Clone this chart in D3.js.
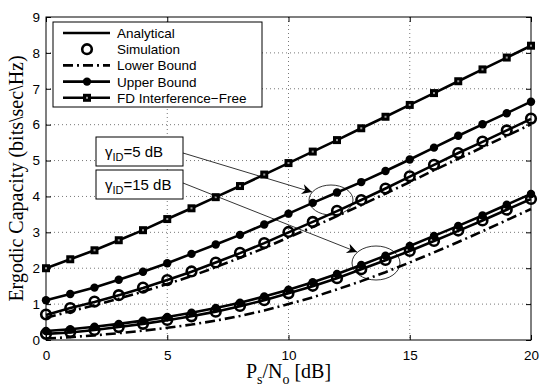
<!DOCTYPE html>
<html>
<head>
<meta charset="utf-8">
<script src="https://cdn.jsdelivr.net/npm/d3@7"></script>
<style>
  body { margin: 0; background: #fff; }
  svg { display: block; }
</style>
</head>
<body>
<div id="chart"></div>
<script>
    // x values (Ps/No in dB)
    const snr = d3.range(0, 21);

    // gamma_ID = 5 dB curves
    const analytical5 = [0.70, 0.89, 1.06, 1.25, 1.45, 1.67, 1.90, 2.16, 2.42, 2.70, 3.00, 3.29, 3.59, 3.90, 4.22, 4.55, 4.88, 5.21, 5.52, 5.84, 6.16];
    const simulation5 = [0.71, 0.89, 1.07, 1.25, 1.46, 1.67, 1.91, 2.16, 2.43, 2.70, 3.01, 3.29, 3.60, 3.90, 4.22, 4.56, 4.88, 5.21, 5.53, 5.84, 6.17];
    const lower5 = [0.62, 0.80, 0.97, 1.15, 1.35, 1.56, 1.78, 2.03, 2.29, 2.56, 2.86, 3.15, 3.45, 3.76, 4.08, 4.40, 4.73, 5.05, 5.37, 5.69, 6.01];
    const upper5 = [1.11, 1.28, 1.46, 1.68, 1.90, 2.14, 2.40, 2.66, 2.93, 3.22, 3.52, 3.82, 4.11, 4.40, 4.71, 5.03, 5.36, 5.69, 6.01, 6.32, 6.64];

    // gamma_ID = 15 dB curves
    const analytical15 = [0.17, 0.21, 0.28, 0.36, 0.45, 0.55, 0.66, 0.79, 0.94, 1.11, 1.30, 1.50, 1.72, 1.97, 2.22, 2.48, 2.76, 3.04, 3.33, 3.63, 3.93];
    const simulation15 = [0.17, 0.22, 0.28, 0.36, 0.45, 0.56, 0.66, 0.79, 0.95, 1.11, 1.30, 1.51, 1.72, 1.97, 2.23, 2.48, 2.76, 3.05, 3.33, 3.63, 3.93];
    const lower15 = [0.04, 0.08, 0.13, 0.19, 0.26, 0.34, 0.43, 0.54, 0.67, 0.82, 1.00, 1.19, 1.41, 1.64, 1.89, 2.16, 2.44, 2.73, 3.03, 3.34, 3.65];
    const upper15 = [0.25, 0.30, 0.37, 0.45, 0.54, 0.64, 0.76, 0.89, 1.04, 1.21, 1.40, 1.61, 1.84, 2.09, 2.35, 2.62, 2.90, 3.18, 3.47, 3.77, 4.07];

    // interference-free full duplex
    const fdFree = [2.00, 2.25, 2.50, 2.78, 3.06, 3.37, 3.67, 3.98, 4.29, 4.61, 4.93, 5.25, 5.57, 5.90, 6.22, 6.55, 6.88, 7.21, 7.54, 7.87, 8.20];

    const xTicks = [0, 5, 10, 15, 20];
    const yTicks = [0, 1, 2, 3, 4, 5, 6, 7, 8, 9];
    const legendLabels = ["Analytical", "Simulation", "Lower Bound", "Upper Bound", "FD Interference\u2212Free"];

    const width = 550, height = 391;
    const margin = { top: 17, right: 19, bottom: 51, left: 46 };
    const w = width - margin.left - margin.right;
    const h = height - margin.top - margin.bottom;

    const svg = d3.select("#chart").append("svg")
        .attr("width", width)
        .attr("height", height);

    const g = svg.append("g")
        .attr("transform", `translate(${margin.left},${margin.top})`);

    const x = d3.scaleLinear().domain([0, 20]).range([0, w]);
    const y = d3.scaleLinear().domain([0, 9]).range([h, 0]);

    // dotted grid
    g.append("g").selectAll("line")
        .data(xTicks.slice(1, -1))
        .enter().append("line")
        .attr("x1", d => x(d)).attr("x2", d => x(d))
        .attr("y1", 0).attr("y2", h)
        .attr("stroke", "#555").attr("stroke-width", 0.8)
        .attr("stroke-dasharray", "1,3");
    g.append("g").selectAll("line")
        .data(yTicks.slice(1, -1))
        .enter().append("line")
        .attr("x1", 0).attr("x2", w)
        .attr("y1", d => y(d)).attr("y2", d => y(d))
        .attr("stroke", "#555").attr("stroke-width", 0.8)
        .attr("stroke-dasharray", "1,3");

    // axes (ticks inward, on all four sides)
    const tickFont = "'Liberation Sans', Arial, sans-serif";
    const xAxis = g.append("g").attr("transform", `translate(0,${h})`)
        .call(d3.axisBottom(x).tickValues(xTicks).tickSizeInner(-5).tickSizeOuter(0).tickPadding(10));
    const yAxis = g.append("g")
        .call(d3.axisLeft(y).tickValues(yTicks).tickSizeInner(-5).tickSizeOuter(0).tickPadding(6));
    g.append("g")
        .call(d3.axisTop(x).tickValues(xTicks).tickSizeInner(-5).tickSizeOuter(0).tickFormat(""));
    g.append("g").attr("transform", `translate(${w},0)`)
        .call(d3.axisRight(y).tickValues(yTicks).tickSizeInner(-5).tickSizeOuter(0).tickFormat(""));
    g.selectAll(".domain").remove();
    g.selectAll(".tick line").attr("stroke", "#000");
    [xAxis, yAxis].forEach(a => a.selectAll("text")
        .attr("font-family", tickFont).attr("font-size", 13.5).attr("fill", "#000"));

    g.append("rect")
        .attr("width", w).attr("height", h)
        .attr("fill", "none").attr("stroke", "#000").attr("stroke-width", 1);

    // curves
    const line = d3.line().x((d, i) => x(snr[i])).y(d => y(d));

    function drawLine(values, dash) {
        g.append("path")
            .datum(values)
            .attr("d", line)
            .attr("fill", "none")
            .attr("stroke", "#000")
            .attr("stroke-width", 2.6)
            .attr("stroke-dasharray", dash || null);
    }

    function drawDots(values) {
        g.append("g").selectAll("circle")
            .data(values).enter().append("circle")
            .attr("cx", (d, i) => x(snr[i])).attr("cy", d => y(d))
            .attr("r", 4.2).attr("fill", "#000");
    }

    function drawCircles(values) {
        g.append("g").selectAll("circle")
            .data(values).enter().append("circle")
            .attr("cx", (d, i) => x(snr[i])).attr("cy", d => y(d))
            .attr("r", 4.8).attr("fill", "none")
            .attr("stroke", "#000").attr("stroke-width", 2.6);
    }

    function drawSquares(values) {
        g.append("g").selectAll("rect")
            .data(values).enter().append("rect")
            .attr("x", (d, i) => x(snr[i]) - 2.5).attr("y", d => y(d) - 2.5)
            .attr("width", 5).attr("height", 5)
            .attr("fill", "#999").attr("stroke", "#000").attr("stroke-width", 3);
    }

    const dashDot = "10,4,2,4";

    drawLine(lower5, dashDot);
    drawLine(lower15, dashDot);
    drawLine(analytical5);
    drawLine(analytical15);
    drawLine(upper5);
    drawLine(upper15);
    drawLine(fdFree);
    drawCircles(simulation5);
    drawCircles(simulation15);
    drawDots(upper5);
    drawDots(upper15);
    drawSquares(fdFree);

    // annotations: gamma_ID boxes, arrows and ellipses
    const defs = svg.append("defs");
    defs.append("marker")
        .attr("id", "head")
        .attr("viewBox", "0 0 10 10")
        .attr("refX", 10).attr("refY", 5)
        .attr("markerWidth", 16).attr("markerHeight", 10)
        .attr("markerUnits", "userSpaceOnUse")
        .attr("orient", "auto")
        .append("path").attr("d", "M0,0 L10,5 L0,10 L3,5 Z").attr("fill", "#000");

    const notes = [
        { label: "5", box: [50, 120, 87, 29], from: [137, 136], to: [266, 175], ell: [285, 183, 22, 15] },
        { label: "15", box: [50, 153, 87, 29], from: [137, 166], to: [311, 235], ell: [330, 246, 24, 17] }
    ];
    notes.forEach(n => {
        g.append("rect")
            .attr("x", n.box[0]).attr("y", n.box[1])
            .attr("width", n.box[2]).attr("height", n.box[3])
            .attr("fill", "#fff").attr("stroke", "#000").attr("stroke-width", 1);
        const t = g.append("text")
            .attr("x", n.box[0] + 9).attr("y", n.box[1] + 20)
            .attr("font-family", tickFont).attr("font-size", 15).attr("fill", "#000");
        t.append("tspan").text("\u03b3");
        t.append("tspan").attr("font-size", 11).attr("dy", 4).text("ID");
        t.append("tspan").attr("dy", -4).text("=" + n.label + " dB");
        g.append("line")
            .attr("x1", n.from[0]).attr("y1", n.from[1])
            .attr("x2", n.to[0]).attr("y2", n.to[1])
            .attr("stroke", "#000").attr("stroke-width", 0.8)
            .attr("marker-end", "url(#head)");
        g.append("ellipse")
            .attr("cx", n.ell[0]).attr("cy", n.ell[1])
            .attr("rx", n.ell[2]).attr("ry", n.ell[3])
            .attr("fill", "none").attr("stroke", "#000").attr("stroke-width", 0.8);
    });

    // legend
    const lg = g.append("g").attr("transform", "translate(7,5)");
    lg.append("rect")
        .attr("width", 209).attr("height", 85)
        .attr("fill", "#fff").attr("stroke", "#000").attr("stroke-width", 1);
    legendLabels.forEach((label, i) => {
        const cy = 11 + i * 16.2;
        const row = lg.append("g").attr("transform", `translate(0,${cy})`);
        if (i !== 1) {
            row.append("line")
                .attr("x1", 10).attr("x2", 57).attr("y1", 0).attr("y2", 0)
                .attr("stroke", "#000").attr("stroke-width", 2.6)
                .attr("stroke-dasharray", i === 2 ? dashDot : null);
        }
        if (i === 1) {
            row.append("circle").attr("cx", 34).attr("cy", 0).attr("r", 4.8)
                .attr("fill", "none").attr("stroke", "#000").attr("stroke-width", 2.6);
        } else if (i === 3) {
            row.append("circle").attr("cx", 34).attr("cy", 0).attr("r", 4.2).attr("fill", "#000");
        } else if (i === 4) {
            row.append("rect").attr("x", 31.5).attr("y", -2.5).attr("width", 5).attr("height", 5)
                .attr("fill", "#999").attr("stroke", "#000").attr("stroke-width", 3);
        }
        row.append("text")
            .attr("x", 64).attr("y", 5)
            .attr("font-family", tickFont).attr("font-size", 13.5).attr("fill", "#000")
            .text(label);
    });

    // axis titles
    const serif = "'Liberation Serif', 'Times New Roman', serif";
    const xl = svg.append("text")
        .attr("x", margin.left + w / 2).attr("y", 378)
        .attr("text-anchor", "middle")
        .attr("font-family", serif).attr("font-size", 20).attr("fill", "#000");
    xl.append("tspan").text("P");
    xl.append("tspan").attr("font-size", 14).attr("dy", 6).text("s");
    xl.append("tspan").attr("dy", -6).text("/N");
    xl.append("tspan").attr("font-size", 14).attr("dy", 6).text("o");
    xl.append("tspan").attr("dy", -6).text(" [dB]");

    svg.append("text")
        .attr("transform", `translate(23,${margin.top + h / 2}) rotate(-90)`)
        .attr("text-anchor", "middle")
        .attr("font-family", serif).attr("font-size", 20).attr("fill", "#000")
        .text("Ergodic Capacity (bits\\sec\\Hz)");
</script>
</body>
</html>
